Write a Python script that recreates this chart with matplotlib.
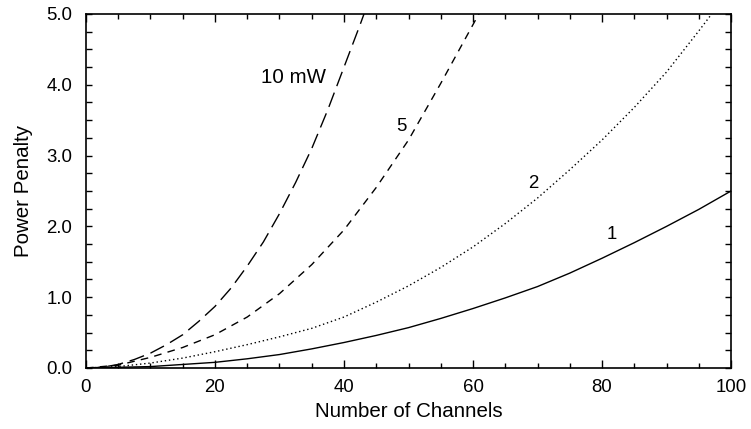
import matplotlib
matplotlib.use("Agg")
import matplotlib.pyplot as plt
from matplotlib.ticker import MultipleLocator, FormatStrFormatter

plt.rcParams['font.family'] = ['Liberation Sans', 'DejaVu Sans']

# Data (x = number of channels, y = power penalty)
x_1mw = [0, 5, 10, 15, 20, 25, 30, 35, 40, 45, 50, 55, 60, 65, 70, 75, 80, 85, 90, 95, 100]
y_1mw = [0, 0.01, 0.02, 0.05, 0.08, 0.13, 0.19, 0.27, 0.36, 0.46, 0.57, 0.70, 0.84, 0.99,
         1.15, 1.34, 1.55, 1.77, 2.0, 2.24, 2.5]

x_2mw = [0, 5, 10, 15, 20, 25, 30, 35, 40, 45, 50, 55, 60, 65, 70, 75, 80, 85, 90, 95, 97]
y_2mw = [0, 0.02, 0.07, 0.14, 0.23, 0.33, 0.44, 0.56, 0.72, 0.93, 1.16, 1.42, 1.71, 2.04,
         2.40, 2.80, 3.22, 3.68, 4.18, 4.76, 5.0]

x_5mw = [0, 5, 10, 15, 20, 25, 30, 35, 40, 45, 50, 55, 60, 61.5]
y_5mw = [0, 0.04, 0.15, 0.29, 0.47, 0.72, 1.05, 1.46, 1.95, 2.55, 3.22, 4.02, 4.85, 5.1]

x_10mw = [0, 2.5, 5, 7.5, 10, 12.5, 15, 17.5, 20, 22.5, 25, 27.5, 30, 32.5, 35, 37.5, 40, 42.5, 43.7]
y_10mw = [0, 0.01, 0.05, 0.12, 0.21, 0.33, 0.47, 0.66, 0.87, 1.13, 1.44, 1.78, 2.18, 2.62,
          3.10, 3.65, 4.25, 4.85, 5.15]

labels = ["1", "2", "5", "10 mW"]
label_x = [81.5, 69.3, 48.9, 32.1]
label_y = [1.88, 2.61, 3.41, 4.10]
label_size = [13.4, 13.4, 13.4, 14.8]

fig = plt.figure(figsize=(7.51, 4.29), dpi=100)
ax = fig.add_axes([0.1145, 0.1422, 0.8589, 0.8252])

lw = 1.0
ax.plot(x_1mw, y_1mw, color='black', lw=lw, linestyle='-')
ax.plot(x_2mw, y_2mw, color='black', lw=lw, linestyle=(0, (1.0, 2.0)))
ax.plot(x_5mw, y_5mw, color='black', lw=lw, linestyle=(0, (5.5, 4.5)))
ax.plot(x_10mw, y_10mw, color='black', lw=lw, linestyle=(0, (11, 5)))

for t, lx, ly, fs in zip(labels, label_x, label_y, label_size):
    ax.text(lx, ly, t, fontsize=fs, ha='center', va='center')

ax.set_xlim(0, 100)
ax.set_ylim(0, 5.0)
ax.xaxis.set_major_locator(MultipleLocator(20))
ax.xaxis.set_minor_locator(MultipleLocator(5))
ax.yaxis.set_major_locator(MultipleLocator(1.0))
ax.yaxis.set_minor_locator(MultipleLocator(0.25))
ax.yaxis.set_major_formatter(FormatStrFormatter('%.1f'))

ax.tick_params(axis='both', which='both', direction='in', top=True, right=True,
               labelsize=13.4, width=1.0, color='black')
ax.tick_params(axis='x', which='major', length=6, pad=8)
ax.tick_params(axis='x', which='minor', length=3.5)
ax.tick_params(axis='y', which='major', length=4.5, pad=10)
ax.tick_params(axis='y', which='minor', length=4.5)

for s in ax.spines.values():
    s.set_linewidth(1.2)

ax.set_xlabel('Number of Channels', fontsize=14.8, labelpad=4)
ax.set_ylabel('Power Penalty', fontsize=14.8, labelpad=9)

fig.savefig('out.png', dpi=100)
